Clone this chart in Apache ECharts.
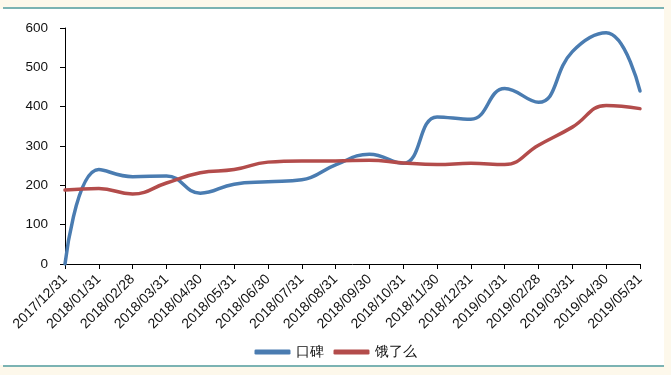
<!DOCTYPE html>
<html>
<head>
<meta charset="utf-8">
<script src="https://cdn.jsdelivr.net/npm/echarts@6/dist/echarts.min.js"></script>
<style>html,body{margin:0;padding:0;background:#fdf8eb;}#c{width:671px;height:375px;}</style>
</head>
<body>
<div id="c"></div>
<script>
const categories = ['2017/12/31','2018/01/31','2018/02/28','2018/03/31','2018/04/30','2018/05/31','2018/06/30','2018/07/31','2018/08/31','2018/09/30','2018/10/31','2018/11/30','2018/12/31','2019/01/31','2019/02/28','2019/03/31','2019/04/30','2019/05/31'];
const koubei = [0, 240, 222, 224, 180, 203, 209, 214, 252, 279, 256, 374, 368, 446, 411, 540, 588, 440];
const eleme = [188, 192, 178, 206, 232, 240, 259, 262, 262, 264, 257, 253, 256, 253, 302, 348, 403, 395];
const yTicks = { min: 0, max: 600, interval: 100 };

const chart = echarts.init(document.getElementById('c'));
chart.setOption({
  backgroundColor: '#fdf8eb',
  animation: false,
  textStyle: { fontFamily: 'Liberation Sans, Arial, sans-serif' },
  graphic: [
    { type: 'rect', z: -10, silent: true, shape: { x: 0, y: 9, width: 664, height: 356 }, style: { fill: '#ffffff' } },
    { type: 'line', z: -9, silent: true, shape: { x1: 3, y1: 8, x2: 664, y2: 8 }, style: { stroke: '#4f9da1', lineWidth: 1.3 } },
    { type: 'line', z: -9, silent: true, shape: { x1: 3, y1: 366, x2: 664, y2: 366 }, style: { stroke: '#4f9da1', lineWidth: 1.3 } }
  ],
  grid: { left: 65, right: 31, top: 28, bottom: 111, containLabel: false },
  legend: {
    left: 'center', bottom: 11,
    itemWidth: 36, itemHeight: 5, itemGap: 10,
    icon: 'roundRect',
    textStyle: { fontSize: 14, color: '#111' },
    data: ['口碑', '饿了么']
  },
  xAxis: {
    type: 'category',
    data: categories,
    boundaryGap: false,
    axisLine: { lineStyle: { color: '#000', width: 1 } },
    axisTick: { show: true, length: 5, alignWithLabel: true, lineStyle: { color: '#000' } },
    axisLabel: { rotate: 45, fontSize: 14, color: '#111', margin: 13, interval: 0 },
    splitLine: { show: false }
  },
  yAxis: {
    type: 'value',
    min: yTicks.min, max: yTicks.max, interval: yTicks.interval,
    axisLine: { show: true, lineStyle: { color: '#000', width: 1 } },
    axisTick: { show: true, length: 5, lineStyle: { color: '#000' } },
    axisLabel: { fontSize: 13.5, color: '#111', margin: 17 },
    splitLine: { show: false }
  },
  series: [
    { name: '口碑', type: 'line', data: koubei, smooth: 0.45, showSymbol: false, symbol: 'none',
      lineStyle: { color: '#4a7cb1', width: 3.5, cap: 'round' }, itemStyle: { color: '#4a7cb1' } },
    { name: '饿了么', type: 'line', data: eleme, smooth: 0.45, showSymbol: false, symbol: 'none',
      lineStyle: { color: '#b34c4b', width: 3.5, cap: 'round' }, itemStyle: { color: '#b34c4b' } }
  ]
});
</script>
</body>
</html>
